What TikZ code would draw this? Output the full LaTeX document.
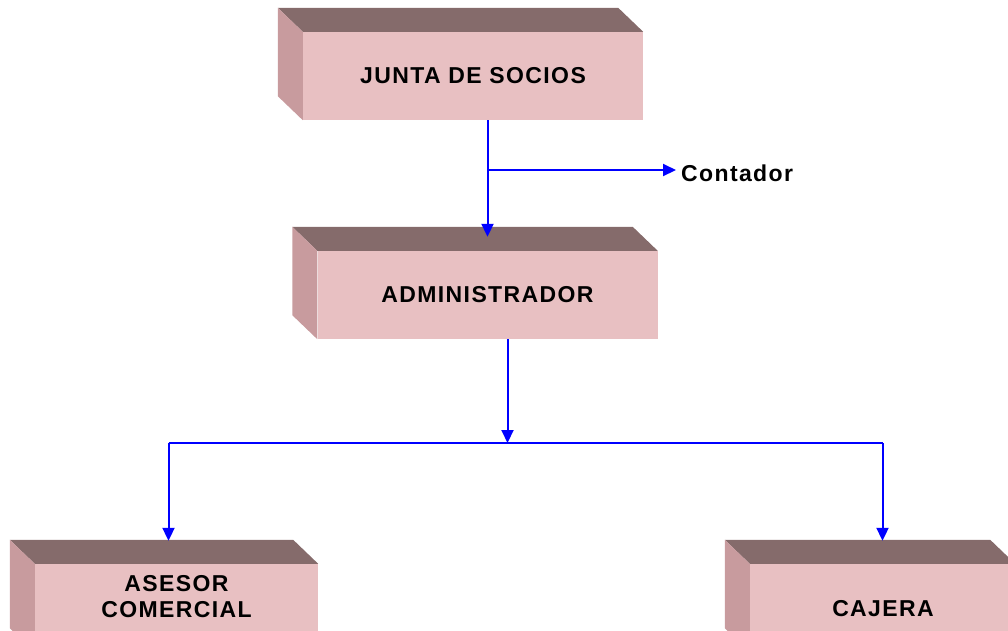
\documentclass[tikz,border=0pt]{standalone}
\usepackage{fontspec}
\setmainfont{Liberation Sans}
\newfontfamily\cajafont[LetterSpace=6]{Liberation Sans}
\usetikzlibrary{arrows.meta}

\definecolor{techo}{RGB}{133,107,107}
\definecolor{lado}{RGB}{200,155,158}
\definecolor{frente}{RGB}{232,192,194}
\definecolor{azul}{RGB}{0,0,255}

\begin{document}
\begin{tikzpicture}[x=1pt,y=-1pt,
  letra/.style={font=\cajafont\fontsize{23}{26}\selectfont\bfseries},
  bloque/.style={fill=frente, minimum height=88pt, inner sep=0pt, letra},
  flecha/.style={draw=azul, line width=2pt, -{Triangle[length=13pt,width=12pt]}},
  linea/.style={draw=azul, line width=2pt}]

\clip (0,0) rectangle (1008,630);

% front faces
\node[bloque, minimum width=340pt] (junta) at (473,76) {JUNTA DE SOCIOS};
\node[bloque, minimum width=340pt] (admin) at (487.5,295) {ADMINISTRADOR};
\node[bloque, minimum width=283pt] (asesor) at (176.5,608) {};
\node[bloque, minimum width=265pt] (cajera) at (882.5,608) {};

% top and left faces
\foreach \n in {junta,admin,asesor,cajera} {
  \fill[techo] (\n.north west) -- ++(-25,-24) -| ([xshift=-25pt,yshift=24pt]\n.north east) -- (\n.north east) -- cycle;
  \fill[lado] (\n.north west) -- ++(-25,-24) -- ([xshift=-25pt,yshift=24pt]\n.south west) -- (\n.south west) -- cycle;
}

% texts of the lower boxes
\node[letra, align=center] (textoasesor) at (176.5,597) {ASESOR\\COMERCIAL};
\node[letra] (textocajera) at (883,609) {CAJERA};

% contador
\node[anchor=west, inner sep=0pt, letra] (contador) at (681,173) {Contador};

% connectors
\coordinate (rama) at (488,170);
\draw[flecha] (junta.south -| admin.north) -- ([yshift=14pt]admin.north);
\draw[flecha] (rama) -- ([xshift=-5pt]rama -| contador.west);

\coordinate (reparto) at (507.5,443);
\draw[flecha] ([xshift=20pt]admin.south) -- (reparto);
\draw[linea] (reparto -| textoasesor) ++(-8,0) -- (reparto -| textocajera);
\draw[flecha] ([xshift=-8pt]reparto -| asesor.north) -- ([xshift=-8pt,yshift=23pt]asesor.north);
\draw[flecha] (reparto -| cajera.north) -- ([yshift=23pt]cajera.north);

\end{tikzpicture}
\end{document}
